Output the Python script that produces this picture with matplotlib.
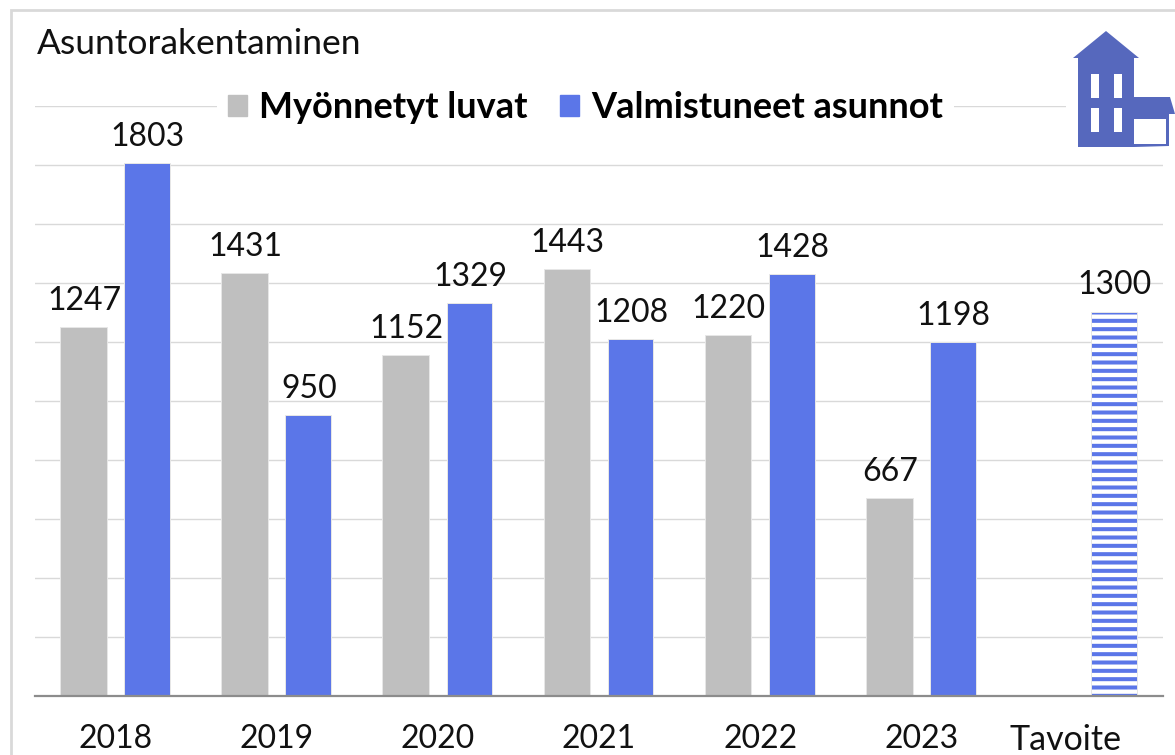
import numpy as np
import matplotlib
matplotlib.use('Agg')
import matplotlib.pyplot as plt
import matplotlib.patheffects as pe
from matplotlib.patches import Patch, Polygon, Rectangle

plt.rcParams['font.family'] = ['Lato', 'DejaVu Sans']
plt.rcParams['hatch.linewidth'] = 2.9

years = ['2018', '2019', '2020', '2021', '2022', '2023', 'Tavoite']
luvat = [1247, 1431, 1152, 1443, 1220, 667]
valmistuneet = [1803, 950, 1329, 1208, 1428, 1198]
tavoite = 1300

GRAY = '#bfbfbf'
BLUE = '#5b76e8'
ICON = '#5668bd'

W, H = 1175, 755
fig = plt.figure(figsize=(W / 100, H / 100), dpi=100)
ax = fig.add_axes([35 / W, 1 - 696 / H, (1163 - 35) / W, (696 - 106) / H])

# border of the original picture
fig.add_artist(Rectangle((10.5 / W, -0.05), 1.1, 1 - 9.5 / H + 0.05, transform=fig.transFigure,
                         fill=False, ec='#d9d9d9', lw=2))

x = np.arange(len(years))
b1 = ax.bar(x[:6] - 0.196, luvat, width=0.283, color=GRAY, zorder=3)
b2 = ax.bar(x[:6] + 0.199, valmistuneet, width=0.278, color=BLUE, zorder=3)
b3 = ax.bar(x[6] + 0.199, tavoite, width=0.283, facecolor='white', edgecolor=BLUE, hatch='--', lw=0, zorder=3)
for b in list(b1) + list(b2) + list(b3):
    b.set_path_effects([pe.withStroke(linewidth=1.4, foreground='#e6e6e6'), pe.Normal()])

for bars, vals in ((b1, luvat), (b2, valmistuneet), (b3, [tavoite])):
    for b, v in zip(bars, vals):
        ax.annotate(str(v), (b.get_x() + b.get_width() / 2, v), xytext=(0, 19.5), textcoords='offset points',
                    ha='center', va='center', fontsize=23, color='#111111', zorder=5)

ax.set_xlim(-0.5, 6.5)
ax.set_ylim(0, 2000)
ax.set_yticks(np.arange(0, 2001, 200))
ax.set_yticklabels([])
ax.grid(axis='y', color='#d9d9d9', lw=1, zorder=0)
ax.tick_params(length=0)
ax.set_xticks(x[:6])
ax.set_xticklabels(years[:6], fontsize=23, color='#111111')
ax.tick_params(axis='x', pad=20)
fig.text(1065 / W, 1 - 740 / H, years[6], fontsize=24.5, color='#111111', ha='center', va='center')
for s in ('top', 'left', 'right'):
    ax.spines[s].set_visible(False)
ax.spines['bottom'].set_color('#8c8c8c')
ax.spines['bottom'].set_linewidth(1.6)
ax.spines['bottom'].set_zorder(6)

fig.text(37 / W, 1 - 44 / H, 'Asuntorakentaminen', fontsize=25.5, color='#111111', ha='left', va='center')

handles = [Patch(color=GRAY, label='Myönnetyt luvat'), Patch(color=BLUE, label='Valmistuneet asunnot')]
leg = ax.legend(handles=handles, loc='center', bbox_to_anchor=((585.5 - 35) / (1163 - 35), 1.0 - 2 / 590),
                ncol=2, frameon=True, framealpha=1, edgecolor='none', facecolor='white', fancybox=False,
                prop={'weight': 'bold', 'size': 26}, handlelength=0.53, handleheight=0.53,
                handletextpad=0.33, columnspacing=0.9, borderpad=0.3, borderaxespad=0)
leg.set_zorder(7)

# house icon, in pixels of the picture
icon = fig.add_axes([0, 0, 1, 1], zorder=8)
icon.set_xlim(0, W)
icon.set_ylim(H, 0)
icon.axis('off')
icon.patch.set_alpha(0)
icon.add_patch(Rectangle((1066, 26), 109, 127, fc='white', ec='none'))
icon.add_patch(Polygon([(1073, 58), (1106, 31), (1139, 58), (1134, 58), (1134, 97), (1170, 97), (1175, 114),
                        (1169, 114), (1169, 146), (1134, 147), (1078, 147), (1078, 58)], fc=ICON, ec='none'))
icon.add_patch(Rectangle((1134, 119), 32, 25, fc='white', ec='none'))
for wx in (1091, 1114):
    for wy in (74, 108):
        icon.add_patch(Rectangle((wx, wy), 8, 24, fc='white', ec='none'))

fig.savefig('out.png', dpi=100)
